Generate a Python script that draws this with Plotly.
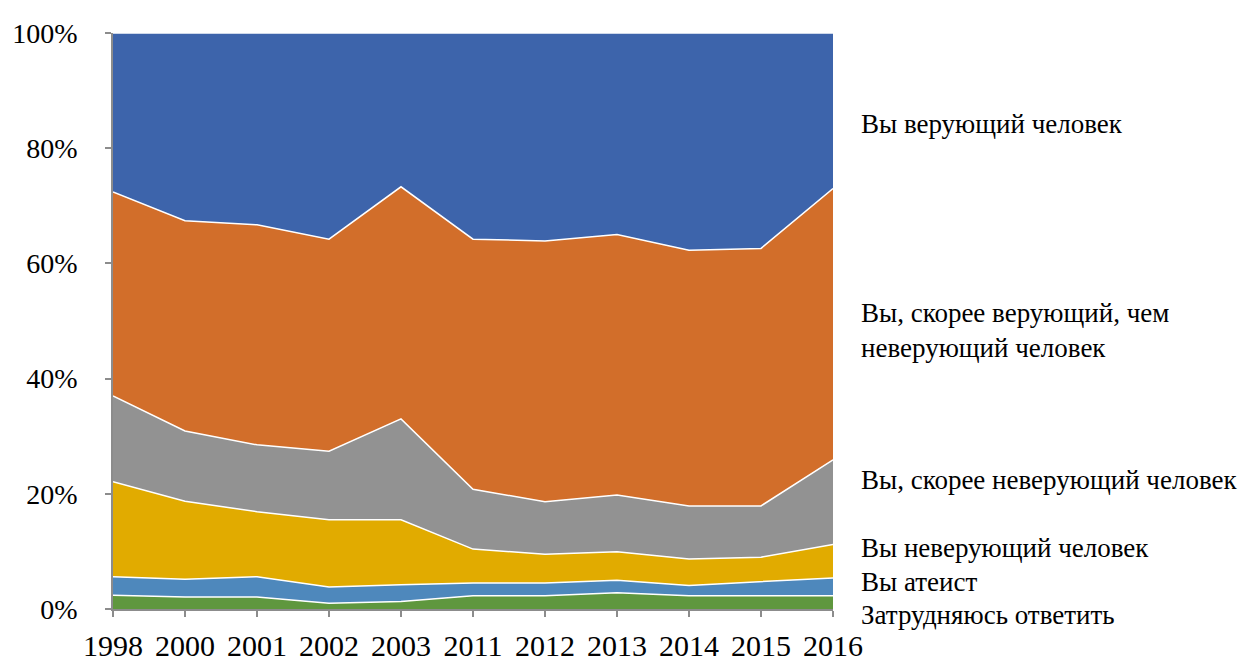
import plotly.graph_objects as go

years = ["1998", "2000", "2001", "2002", "2003", "2011", "2012", "2013", "2014", "2015", "2016"]

# shares, %, bottom to top
hard_to_say = [2.4, 2.1, 2.1, 1.0, 1.3, 2.3, 2.3, 2.8, 2.3, 2.3, 2.3]
atheist = [3.2, 3.05, 3.5, 2.8, 2.9, 2.2, 2.2, 2.2, 1.8, 2.45, 3.1]
non_believer = [16.5, 13.55, 11.3, 11.7, 11.3, 5.9, 5.0, 4.95, 4.6, 4.25, 5.8]
rather_non_believer = [14.9, 12.2, 11.6, 11.9, 17.5, 10.4, 9.1, 9.85, 9.2, 8.9, 14.7]
rather_believer = [35.4, 36.5, 38.2, 36.8, 40.3, 43.4, 45.3, 45.2, 44.4, 44.7, 47.1]
believer = [27.6, 32.6, 33.3, 35.8, 26.7, 35.8, 36.1, 35.0, 37.7, 37.4, 27.0]

series_names = [
    "Затрудняюсь ответить",
    "Вы атеист",
    "Вы неверующий человек",
    "Вы, скорее неверующий человек",
    "Вы, скорее верующий, чем<br>неверующий человек",
    "Вы верующий человек",
]
series_values = [hard_to_say, atheist, non_believer, rather_non_believer, rather_believer, believer]
colors = ["#5F973E", "#4E88BC", "#E1AB00", "#929292", "#D26E2A", "#3D64AB"]
label_y = [-1.0, 4.7, 10.6, 22.4, 48.3, 84.2]   # where the right-hand labels sit, %

y_ticks = [0, 20, 40, 60, 80, 100]
y_ticktext = [f"{v}%" for v in y_ticks]

FONT = "Liberation Serif"

fig = go.Figure()
for name, vals, col in zip(series_names, series_values, colors):
    fig.add_trace(go.Scatter(
        x=years, y=vals, name=name,
        mode="lines", stackgroup="one", groupnorm="percent",
        line=dict(color="white", width=1.5),
        fillcolor=col,
        hoverinfo="x+y+name",
        showlegend=False,
    ))

# labels to the right of the plot (paper refs so the one below 0 still shows)
for name, yy in zip(series_names, label_y):
    fig.add_annotation(
        text=name, x=1, xref="paper", xanchor="left", xshift=26,
        y=yy / 100, yref="paper", yanchor="middle", align="left",
        showarrow=False, font=dict(family=FONT, size=27, color="black"),
    )

fig.update_layout(
    width=1252, height=663,
    margin=dict(l=113, r=419, t=33, b=54),
    paper_bgcolor="white", plot_bgcolor="white",
    font=dict(family=FONT, size=28, color="black"),
    xaxis=dict(
        type="category", range=[0, 10], automargin=False,
        showgrid=False, showline=True, linecolor="#8c8c8c", linewidth=1.5,
        ticks="outside", ticklen=6, tickcolor="#8c8c8c", tickwidth=1.5,
        tickmode="array", tickvals=years, ticktext=years,
        tickfont=dict(family=FONT, size=30), ticklabelstandoff=3,
    ),
    yaxis=dict(
        range=[0, 100], tickmode="array", tickvals=y_ticks, ticktext=y_ticktext,
        automargin=False, showgrid=False, zeroline=False,
        showline=True, linecolor="#8c8c8c", linewidth=1.5,
        ticks="outside", ticklen=6, tickcolor="#8c8c8c", tickwidth=1.5,
        tickfont=dict(family=FONT, size=28), ticklabelstandoff=22,
    ),
)

# page body has a default 8px margin; drop it so the 1252x663 figure fits the window
fig.write_html(
    "out.html",
    config={"displayModeBar": False},
    post_script="document.body.style.margin='0';",
)
